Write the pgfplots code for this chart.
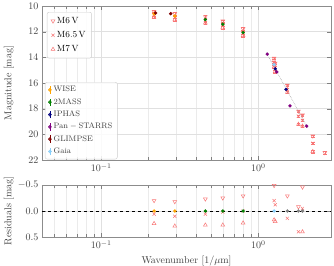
\documentclass[border=0pt]{standalone}
\usepackage{pgfplots}
\pgfplotsset{compat=1.18}
\usetikzlibrary{calc}
\definecolor{modcol}{RGB}{248,118,118}
\definecolor{cwise}{RGB}{255,165,0}
\definecolor{c2mass}{RGB}{0,128,0}
\definecolor{ciphas}{RGB}{0,0,128}
\definecolor{cps}{RGB}{128,0,128}
\definecolor{cglimpse}{RGB}{128,0,0}
\definecolor{cgaia}{RGB}{135,206,250}
\definecolor{cgray}{RGB}{128,128,128}
\begin{document}
\begin{tikzpicture}
% ---------------- top panel: models ----------------
\begin{axis}[scale only axis, width=289pt, height=154pt, xmode=log, xmin=0.042, xmax=2.9,
  tick align=inside, axis line style={black!45},
  ticklabel style={text=black!75}, label style={text=black!75},
  grid=both, major grid style={black!12}, minor grid style={black!8},
  y label style={at={(axis description cs:-0.085,0.5)}, anchor=south, rotate=0},
  name=top, ymin=10, ymax=22, y dir=reverse,
  ytick={10,12,...,22}, ylabel={Magnitude [mag]},
  legend style={at={(rel axis cs:0.017,0.961)}, anchor=north west, draw=black!20,
    rounded corners=2pt, font=\small, row sep=2.5pt, inner xsep=4pt, inner ysep=3pt,
    fill=white, fill opacity=0.85, text opacity=1},
  legend cell align=left]
\addplot[only marks, modcol, mark=triangle, mark size=2.2pt, mark options={solid, rotate=180, fill=none, line width=0.5pt},
  error bars/.cd, y dir=both, y fixed=0.1, error bar style={line width=0.4pt}, error mark options={rotate=90, mark size=1.8pt}]
table[x=x,y=y] {
x y
0.217 10.42
0.294 10.60
0.46 10.83
0.594 11.17
0.80 11.78
1.26 14.07
1.28 14.45
1.53 16.18
1.80 18.19
1.91 18.50
2.22 20.13
2.65 21.42
};
\addlegendentry{M6\,V}
\addplot[only marks, modcol, mark=x, mark size=2.2pt, mark options={solid, line width=0.5pt},
  error bars/.cd, y dir=both, y fixed=0.1, error bar style={line width=0.4pt}, error mark options={rotate=90, mark size=1.8pt}]
table[x=x,y=y] {
x y
0.217 10.68
0.294 10.88
0.46 11.12
0.594 11.44
0.80 12.07
1.26 14.37
1.28 14.78
1.53 16.51
1.80 18.58
1.91 18.91
2.22 20.70
};
\addlegendentry{M6.5\,V}
\addplot[only marks, modcol, mark=triangle, mark size=2.2pt, mark options={solid, fill=none, line width=0.5pt},
  error bars/.cd, y dir=both, y fixed=0.1, error bar style={line width=0.4pt}, error mark options={rotate=90, mark size=1.8pt}]
table[x=x,y=y] {
x y
0.217 10.86
0.294 11.07
0.46 11.33
0.594 11.69
0.80 12.30
1.26 14.74
1.28 15.10
1.53 16.72
1.80 19.22
1.91 19.36
2.22 21.34
};
\addlegendentry{M7\,V}
\end{axis}
% ---------------- top panel: data overlay ----------------
\begin{axis}[scale only axis, width=289pt, height=154pt, xmode=log, xmin=0.042, xmax=2.9,
  ymin=10, ymax=22, y dir=reverse, hide axis,
  legend style={at={(rel axis cs:0.01,0.506)}, anchor=north west, draw=black!20,
    rounded corners=2pt, font=\footnotesize, row sep=1.2pt, inner xsep=3pt, inner ysep=2pt,
    fill=white, fill opacity=0.85, text opacity=1, text=black!75},
  legend cell align=left]
\addplot[black!35, densely dotted, line width=0.6pt, forget plot] coordinates {(1.125,13.64) (2.05,19.46)};
\addplot[only marks, cwise, mark=*, mark size=1.5pt,
  legend image code/.code={\draw[draw=cwise,line width=0.6pt](0.25cm,-0.13cm)--(0.25cm,0.13cm);\fill[cwise](0.25cm,0cm) circle (1.6pt);},
  error bars/.cd, y dir=both, y explicit, error mark=none, error bar style={line width=0.6pt}]
table[x=x,y=y,y error=e] {
x y e
0.217 10.62 0.05
0.294 10.78 0.05
};
\addlegendentry{WISE}
\addplot[only marks, c2mass, mark=*, mark size=1.5pt,
  legend image code/.code={\draw[draw=c2mass,line width=0.6pt](0.25cm,-0.13cm)--(0.25cm,0.13cm);\fill[c2mass](0.25cm,0cm) circle (1.6pt);},
  error bars/.cd, y dir=both, y explicit, error mark=none, error bar style={line width=0.6pt}]
table[x=x,y=y,y error=e] {
x y e
0.46 11.06 0.03
0.594 11.42 0.03
0.80 12.07 0.03
};
\addlegendentry{2MASS}
\addplot[only marks, ciphas, mark=*, mark size=1.5pt,
  legend image code/.code={\draw[draw=ciphas,line width=0.6pt](0.25cm,-0.13cm)--(0.25cm,0.13cm);\fill[ciphas](0.25cm,0cm) circle (1.6pt);},
  error bars/.cd, y dir=both, y explicit, error mark=none, error bar style={line width=0.6pt}]
table[x=x,y=y,y error=e] {
x y e
1.28 14.90 0.02
1.50 16.50 0.02
};
\addlegendentry{IPHAS}
\addplot[only marks, cps, mark=*, mark size=1.5pt,
  legend image code/.code={\draw[draw=cps,line width=0.6pt](0.25cm,-0.13cm)--(0.25cm,0.13cm);\fill[cps](0.25cm,0cm) circle (1.6pt);},
  error bars/.cd, y dir=both, y explicit, error mark=none, error bar style={line width=0.6pt}]
table[x=x,y=y,y error=e] {
x y e
1.14 13.75 0.02
1.31 15.14 0.02
1.59 17.78 0.02
2.03 19.36 0.03
};
\addlegendentry{$\mathrm{Pan-STARRS}$}
\addplot[only marks, cglimpse, mark=*, mark size=1.5pt,
  legend image code/.code={\draw[draw=cglimpse,line width=0.6pt](0.25cm,-0.13cm)--(0.25cm,0.13cm);\fill[cglimpse](0.25cm,0cm) circle (1.6pt);},
  error bars/.cd, y dir=both, y explicit, error mark=none, error bar style={line width=0.6pt}]
table[x=x,y=y,y error=e] {
x y e
0.222 10.55 0.04
0.277 10.60 0.04
};
\addlegendentry{GLIMPSE}
\addplot[only marks, cgaia, mark=*, mark size=1.5pt,
  legend image code/.code={\draw[draw=cgaia,line width=0.6pt](0.25cm,-0.13cm)--(0.25cm,0.13cm);\fill[cgaia](0.25cm,0cm) circle (1.6pt);},
  error bars/.cd, y dir=both, y explicit, error mark=none, error bar style={line width=0.6pt}]
table[x=x,y=y,y error=e] {
x y e
1.26 14.57 0.01
};
\addlegendentry{Gaia}
\end{axis}
% ---------------- residual panel ----------------
\begin{axis}[scale only axis, width=289pt, height=52pt, xmode=log, xmin=0.042, xmax=2.9,
  tick align=inside, axis line style={black!45},
  ticklabel style={text=black!75}, label style={text=black!75},
  grid=both, major grid style={black!12}, minor grid style={black!8},
  y label style={at={(axis description cs:-0.085,0.5)}, anchor=south},
  at={($(top.south west)+(0,-25pt)$)}, anchor=north west,
  ymin=-0.5, ymax=0.5, y dir=reverse, ytick={-0.5,0,0.5},
  yticklabel style={/pgf/number format/fixed, /pgf/number format/fixed zerofill, /pgf/number format/precision=1},
  ylabel={Residuals [mag]}, xlabel={Wavenumber [$1/\mu$m]}]
\addplot[black, dashed, line width=0.6pt] coordinates {(0.042,0) (2.9,0)};
\addplot[only marks, modcol, mark=triangle, mark size=2.2pt, mark options={solid, rotate=180, fill=none, line width=0.5pt}]
table[x=x,y=y] {
x y
0.217 -0.20
0.294 -0.18
0.46 -0.23
0.594 -0.25
0.80 -0.29
1.26 -0.49
1.53 -0.29
1.80 -0.08
1.91 -0.46
};
\addplot[only marks, modcol, mark=x, mark size=2.2pt, mark options={solid, line width=0.5pt}]
table[x=x,y=y] {
x y
0.217 0.06
0.294 0.10
0.46 0.06
0.594 0.02
0.80 0.00
1.26 -0.20
1.28 -0.12
1.53 0.14
1.80 0.40
1.91 -0.05
};
\addplot[only marks, modcol, mark=triangle, mark size=2.2pt, mark options={solid, fill=none, line width=0.5pt}]
table[x=x,y=y] {
x y
0.217 0.24
0.294 0.29
0.46 0.27
0.594 0.27
0.80 0.23
1.26 0.17
1.28 0.20
1.91 0.40
};
\addplot[only marks, cwise, mark=*, mark size=1.5pt] coordinates {(0.217,0) (0.294,0)};
\addplot[only marks, c2mass, mark=*, mark size=1.5pt] coordinates {(0.46,0) (0.594,0) (0.80,0)};
\addplot[only marks, cgaia, mark=*, mark size=1.5pt] coordinates {(1.26,0)};
\addplot[only marks, cgray, mark=*, mark size=1.5pt] coordinates {(1.53,0) (1.80,0) (1.91,0)};
\end{axis}
\pgfresetboundingbox
\useasboundingbox ($(top.north west)+(-42pt,6pt)$) rectangle ($(top.north west)+(292pt,-259pt)$);
\end{tikzpicture}
\end{document}
